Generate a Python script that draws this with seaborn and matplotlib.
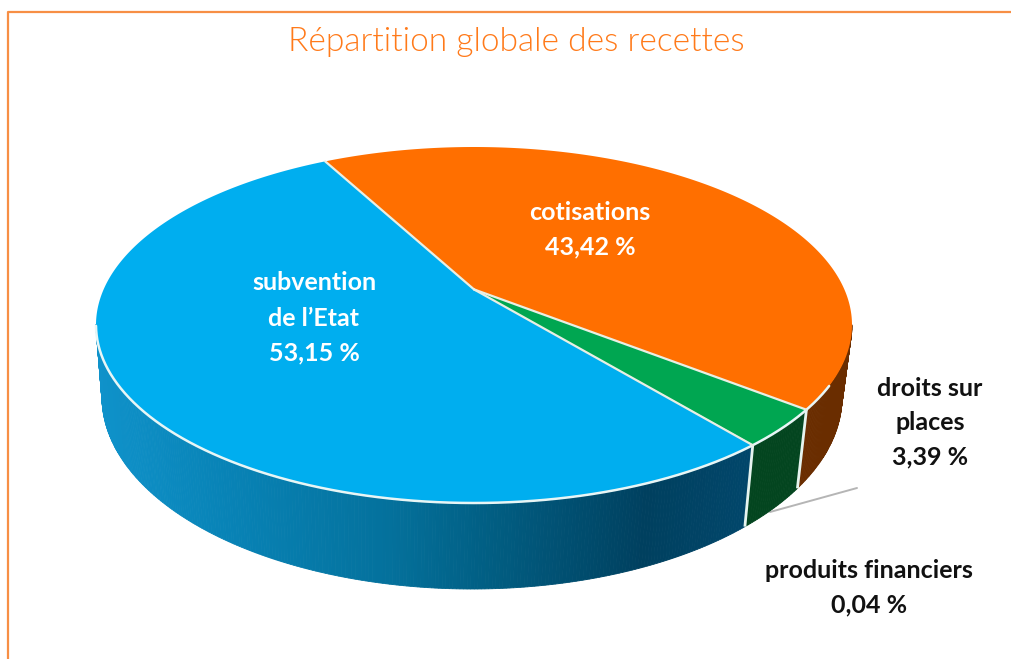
import numpy as np
import matplotlib
matplotlib.use("Agg")
import matplotlib.pyplot as plt
from matplotlib.colors import LinearSegmentedColormap
import seaborn as sns

# data, counter-clockwise from the blue/orange boundary
categories = ["subvention de l’Etat", "produits financiers", "droits sur places", "cotisations"]
shares = [53.15, 0.04, 3.39, 43.42]
top_colors = ["#00aeef", "#00aeef", "#00a651", "#ff6f00"]
wall_colors = [None, None, "#03451f", "#6a2d00"]

START_ANGLE = 118.2
TILT = 0.2  # perspective, moves the pie centre towards the back
CX, CY, RX, RY = 474, 325, 378, 178
BX, BY, BRX, BRY = 472, 397, 370, 192

ORANGE = "#ff7a1a"
BORDER = "#f78f45"
wall_blue = LinearSegmentedColormap.from_list(
    "wall_blue",
    [(0.0, "#0f92ca"), (0.2, "#0883b6"), (0.45, "#04719c"), (0.6, "#015f84"),
     (0.85, "#00405f"), (1.0, "#01466a")],
)


def unit_points(theta_deg):
    t = np.radians(theta_deg)
    d = 1 + TILT * np.sin(t)
    return np.cos(t) * np.sqrt(1 - TILT**2) / d, (np.sin(t) + TILT) / d


def top_xy(ux, uy):
    return CX + RX * ux, CY - RY * uy


def bottom_xy(ux, uy):
    return BX + BRX * ux, BY - BRY * uy


sns.set_theme(style="white")
plt.rcParams["font.family"] = ["Lato", "DejaVu Sans"]

fig = plt.figure(figsize=(10.11, 6.59), dpi=100)
ax = fig.add_axes([0, 0, 1, 1])
ax.set_xlim(0, 1011)
ax.set_ylim(659, 0)
ax.axis("off")

# frame and leader line
ax.plot([1011, 7.5, 7.5], [11.5, 11.5, 659], color=BORDER, lw=1.6, zorder=1)
ax.plot([770, 857], [512, 488], color="#b5b5b5", lw=1.4, zorder=1)

edges = START_ANGLE + np.cumsum([0] + shares) * 3.6
apex = (CX, CY - RY * TILT)

# side wall
for i, share in enumerate(shares):
    theta = np.linspace(edges[i], edges[i + 1], max(int(share * 8), 3))
    ux, uy = unit_points(theta)
    for j in range(len(theta) - 1):
        if uy[j] > 0 and uy[j + 1] > 0:
            continue
        x0, y0 = top_xy(ux[j:j + 2], uy[j:j + 2])
        x1, y1 = bottom_xy(ux[j:j + 2], uy[j:j + 2])
        c = wall_colors[i]
        if c is None:
            c = wall_blue((x0.mean() - 97) / 650)
        ax.fill(np.r_[x0, x1[::-1]], np.r_[y0, y1[::-1]], color=c, lw=0.6, zorder=2)

# boundaries on the wall
for i in [1, 3]:
    ux, uy = unit_points(edges[i])
    x0, y0 = top_xy(ux, uy)
    x1, y1 = bottom_xy(ux, uy)
    ax.plot([x0, x1], [y0, y1], color="#e6f4ef", lw=2, zorder=3, solid_capstyle="butt")

# top of the pie
for i, share in enumerate(shares):
    theta = np.linspace(edges[i], edges[i + 1], max(int(share * 8), 3))
    x, y = top_xy(*unit_points(theta))
    ax.fill(np.r_[apex[0], x], np.r_[apex[1], y], color=top_colors[i], lw=0, zorder=4)

# white seams between the slices and along the rim
theta = np.linspace(edges[0], edges[-1], 720)
ux, uy = unit_points(theta)
x, y = top_xy(ux, uy)
front = (uy < 0) & (x < 830)
ax.plot(x[front], y[front], color="#e8f6f6", lw=1.8, zorder=5)
for e in [edges[0], edges[1], edges[3]]:
    xe, ye = top_xy(*unit_points(e))
    ax.plot([apex[0], xe], [apex[1], ye], color="#e9efe4", lw=1.6, zorder=5)

# texts
ax.text(516, 42, "Répartition globale des recettes", color=ORANGE, fontsize=24.1,
        fontweight=300, ha="center", va="center", zorder=6)


def label(x, y, lines, color, size=18):
    for k, line in enumerate(lines):
        ax.text(x, y[k], line, color=color, fontsize=size, fontweight="bold",
                ha="center", va="center", zorder=6)


label(314, [283, 318, 353], ["subvention", "de l’Etat", "53,15 %"], "white")
label(590, [212, 247], ["cotisations", "43,42 %"], "white")
label(930, [388, 422, 457], ["droits sur", "places", "3,39 %"], "#111111")
label(869, [571, 605], ["produits financiers", "0,04 %"], "#111111")

fig.savefig("out.png", dpi=100)
